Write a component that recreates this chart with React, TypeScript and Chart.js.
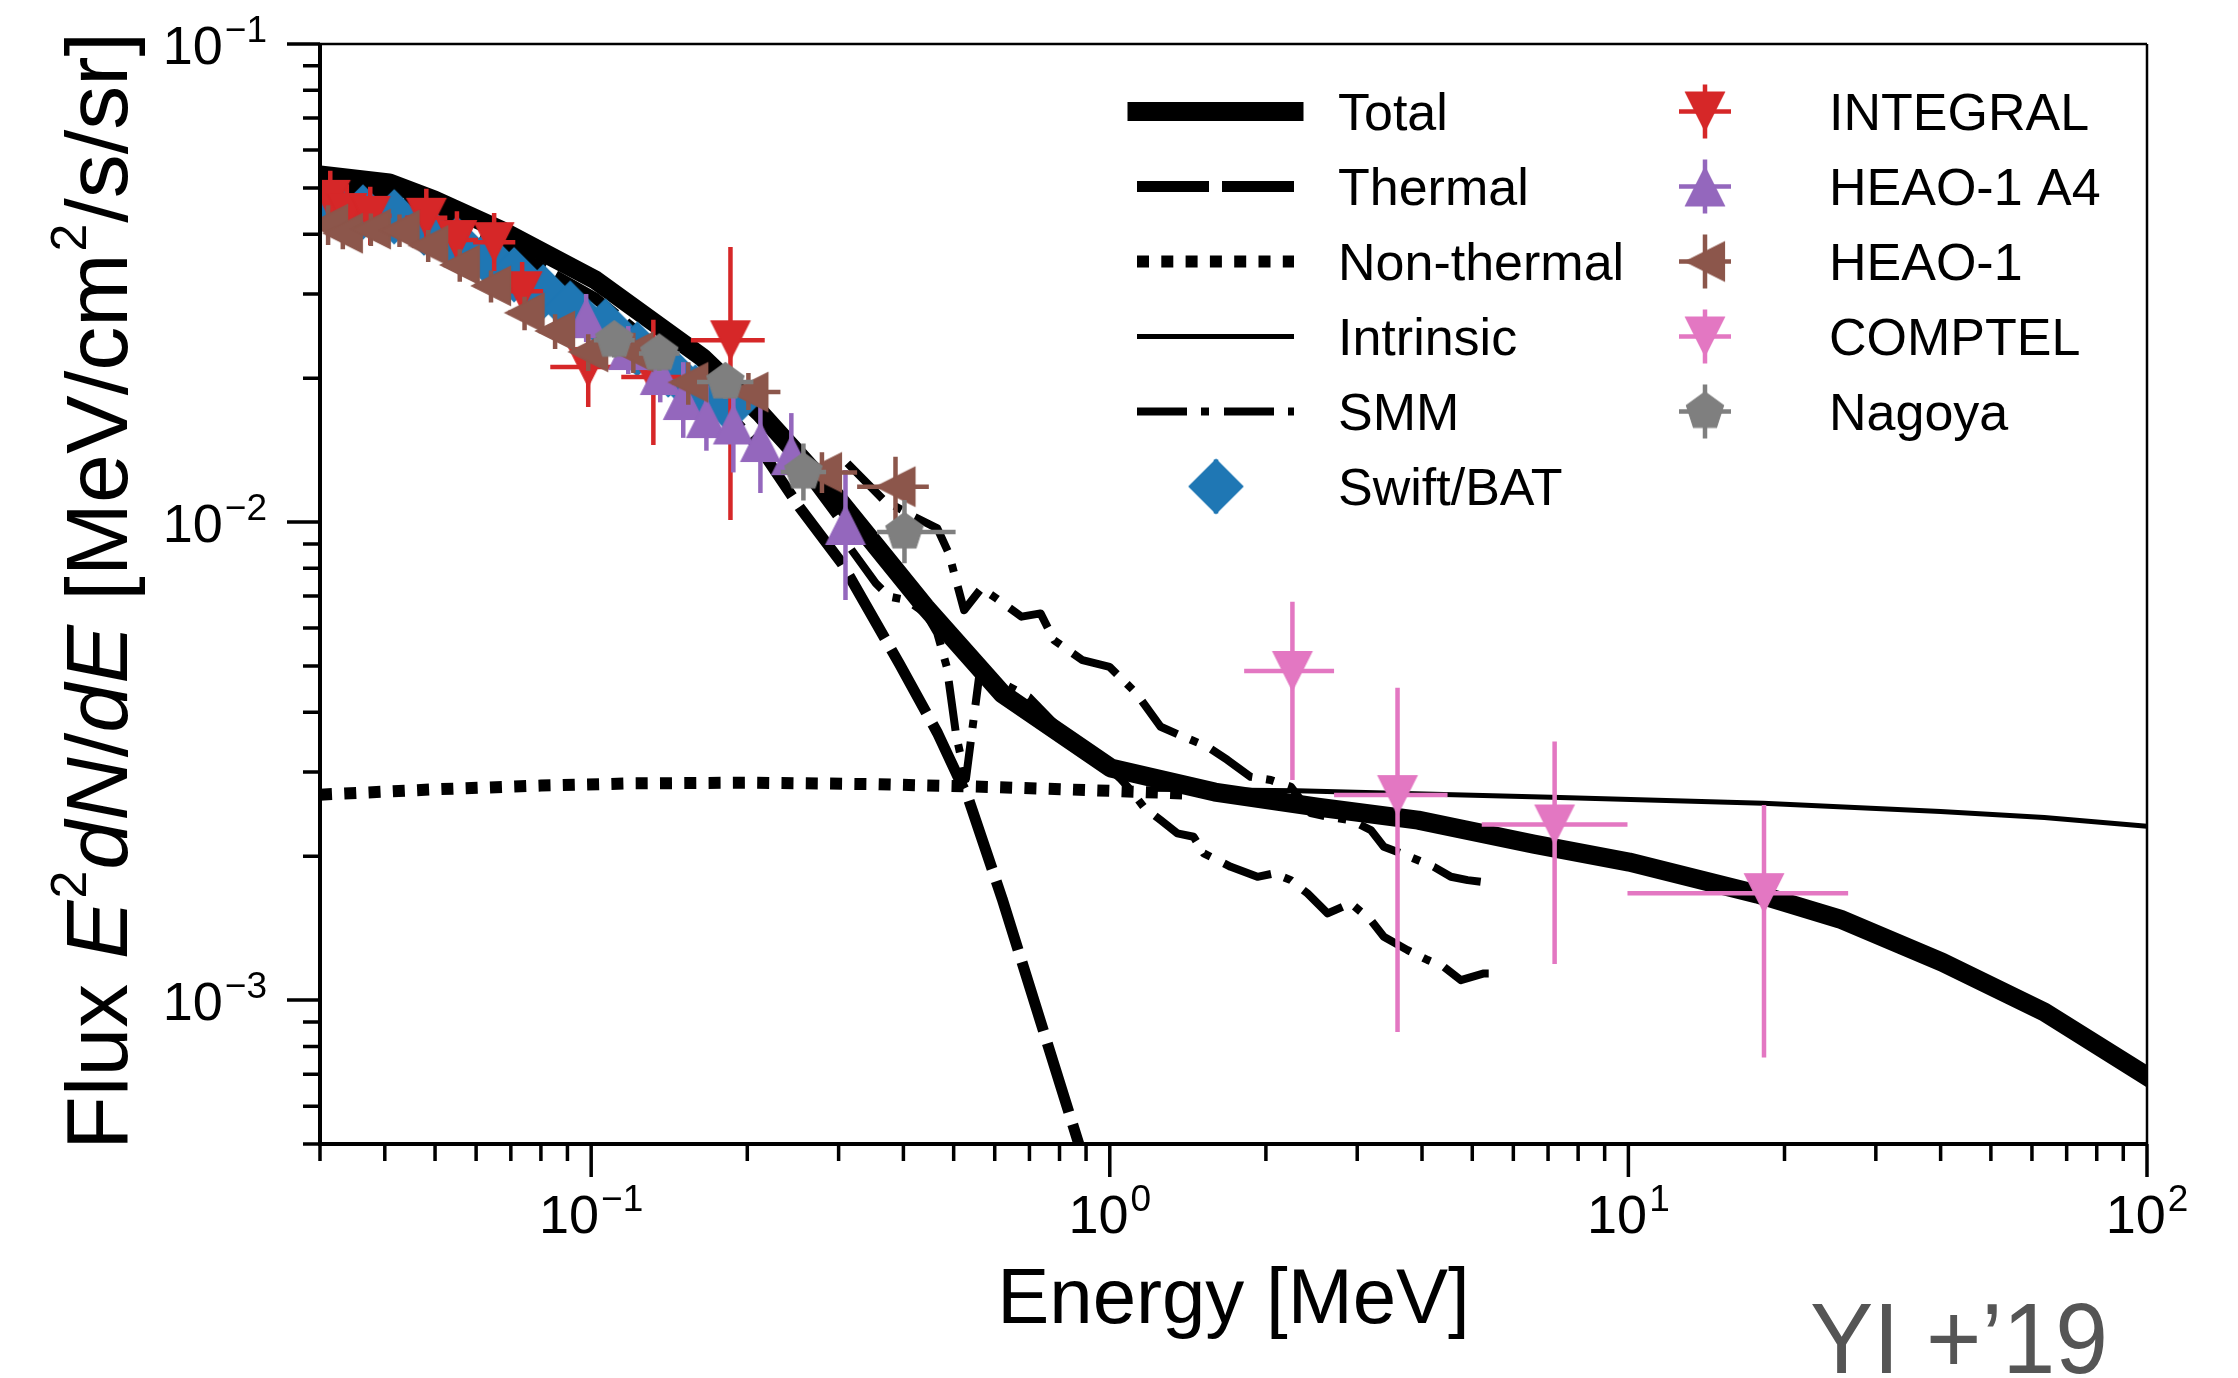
import React, { useEffect, useRef } from 'react';
import { Chart, registerables } from 'chart.js';

Chart.register(...registerables);

const FONT = '"Liberation Sans", Arial, Helvetica, sans-serif';

// ---------------- model curves (Energy [MeV], Flux) ----------------
const totalE = [0.03, 0.0408, 0.0498, 0.067, 0.1018, 0.1638, 0.212, 0.297, 0.441, 0.621, 1.004, 1.594, 2.518, 3.93, 6.57, 10.03, 17.7, 25.6, 40.3, 63.4, 100];
const totalF = [0.0532, 0.0512, 0.0472, 0.0408, 0.0321, 0.0221, 0.0169, 0.01128, 0.00664, 0.00437, 0.00306, 0.002724, 0.002534, 0.002379, 0.00212, 0.001944, 0.001667, 0.001477, 0.0012, 0.000944, 0.000693];

const thermalE = [0.03, 0.0408, 0.0498, 0.067, 0.1018, 0.1638, 0.212, 0.252, 0.305, 0.393, 0.4654, 0.535, 0.62, 0.869, 1.0];
const thermalF = [0.0505, 0.0485, 0.0445, 0.038, 0.0294, 0.0194, 0.0142, 0.01075, 0.00817, 0.00505, 0.00362, 0.00262, 0.00163, 0.000505, 0.000316];

const nonThermalE = [0.03, 0.05, 0.08, 0.12, 0.2, 0.35, 0.6, 1.0, 1.45];
const nonThermalF = [0.00269, 0.00276, 0.00281, 0.00284, 0.00285, 0.00283, 0.00279, 0.00274, 0.0027];

const intrinsicE = [1.2, 2.3, 7.1, 18.2, 40, 63.4, 100];
const intrinsicF = [0.00276, 0.00274, 0.002655, 0.00258, 0.00248, 0.00241, 0.00231];

const smmUpperE = [0.312, 0.3664, 0.4198, 0.465, 0.4894, 0.5237, 0.5654, 0.6048, 0.676, 0.7354, 0.781, 0.886, 0.999, 1.126, 1.2535, 1.388, 1.543, 1.686, 1.87, 2.044, 2.234, 2.441, 2.63, 2.916, 3.187, 3.376, 3.641, 4.216, 4.547, 4.898, 5.505];
const smmUpperF = [0.01327, 0.01112, 0.01026, 0.0097, 0.0086, 0.00654, 0.00727, 0.00692, 0.00634, 0.00644, 0.00566, 0.00514, 0.00498, 0.00438, 0.00373, 0.003555, 0.00339, 0.00318, 0.00293, 0.002886, 0.002794, 0.00246, 0.002418, 0.002379, 0.002268, 0.002093, 0.00203, 0.0019, 0.001811, 0.001782, 0.001754];

const smmLowerE = [0.26, 0.297, 0.3145, 0.354, 0.3759, 0.4054, 0.4417, 0.465, 0.4849, 0.506, 0.528, 0.546, 0.561, 0.621, 0.699, 0.8, 0.95, 1.05, 1.097, 1.162, 1.2535, 1.35, 1.451, 1.518, 1.711, 1.926, 2.072, 2.234, 2.406, 2.63, 2.916, 3.187, 3.376, 3.751, 4.101, 4.408, 4.753, 5.265, 5.505];
const smmLowerF = [0.0125, 0.0103, 0.00888, 0.00744, 0.00698, 0.00687, 0.00644, 0.00585, 0.00498, 0.00356, 0.0029, 0.00385, 0.00483, 0.0046, 0.0043, 0.0037, 0.0032, 0.0029, 0.00275, 0.002537, 0.002379, 0.002232, 0.002196, 0.002027, 0.0019, 0.001811, 0.001841, 0.001782, 0.001672, 0.001518, 0.001594, 0.00147, 0.001357, 0.001272, 0.001213, 0.001174, 0.001101, 0.001137, 0.001137];

// ---------------- measurements ----------------
const swiftE = [0.0325, 0.0363, 0.0417, 0.0476, 0.0551, 0.063, 0.071, 0.0808, 0.0911, 0.1065, 0.1227, 0.1408, 0.1588, 0.1848];
const swiftF = [0.0447, 0.0445, 0.0435, 0.0412, 0.0382, 0.0357, 0.0329, 0.0303, 0.028, 0.0257, 0.023, 0.0208, 0.0187, 0.0175];
const swiftFLo = [0.0428, 0.0426, 0.0416, 0.0393, 0.0364, 0.034, 0.0313, 0.0287, 0.0265, 0.0243, 0.0217, 0.0195, 0.0175, 0.0162];
const swiftFHi = [0.0466, 0.0464, 0.0454, 0.0431, 0.04, 0.0374, 0.0345, 0.0319, 0.0295, 0.0271, 0.0243, 0.0221, 0.0199, 0.0188];

const integralE = [0.0314, 0.0338, 0.0375, 0.0481, 0.0551, 0.065, 0.0736, 0.0987, 0.1318, 0.1856];
const integralELo = [0.0286, 0.0308, 0.0341, 0.0438, 0.0502, 0.0592, 0.067, 0.0834, 0.1143, 0.1557];
const integralEHi = [0.0345, 0.0371, 0.0412, 0.0528, 0.0605, 0.0714, 0.0808, 0.11, 0.152, 0.2161];
const integralF = [0.0472, 0.0443, 0.0437, 0.0433, 0.0389, 0.0385, 0.0304, 0.0211, 0.0201, 0.024];
const integralFLo = [0.041, 0.0385, 0.038, 0.0376, 0.0338, 0.0335, 0.0264, 0.0174, 0.0145, 0.0101];
const integralFHi = [0.0543, 0.0509, 0.0503, 0.0498, 0.0447, 0.0443, 0.035, 0.0249, 0.0265, 0.0376];

const heaoA4E = [0.0978, 0.1179, 0.1359, 0.1505, 0.1668, 0.188, 0.212, 0.2432, 0.3093];
const heaoA4F = [0.0267, 0.0229, 0.0203, 0.018, 0.0165, 0.016, 0.0147, 0.0138, 0.00986];
const heaoA4FLo = [0.0238, 0.0204, 0.0178, 0.015, 0.0141, 0.0127, 0.0115, 0.01266, 0.00687];
const heaoA4FHi = [0.03, 0.0257, 0.0232, 0.0216, 0.0193, 0.0202, 0.0188, 0.0169, 0.01285];

const heao1E = [0.0311, 0.0332, 0.0376, 0.0427, 0.0485, 0.0558, 0.0641, 0.0744, 0.0852, 0.0987, 0.1206, 0.1539, 0.201, 0.2786, 0.3862];
const heao1ELo = [0.0289, 0.0309, 0.035, 0.0397, 0.0451, 0.0519, 0.0596, 0.0692, 0.0792, 0.0918, 0.1122, 0.1431, 0.1911, 0.2383, 0.3257];
const heao1EHi = [0.0334, 0.0357, 0.0404, 0.0459, 0.0521, 0.06, 0.0689, 0.08, 0.0916, 0.1061, 0.1296, 0.1654, 0.2317, 0.3257, 0.4478];
const heao1F = [0.042, 0.0402, 0.041, 0.0408, 0.0379, 0.0345, 0.0312, 0.0274, 0.0251, 0.0227, 0.0227, 0.0196, 0.0187, 0.0127, 0.01186];
const heao1FLo = [0.038, 0.0372, 0.0378, 0.0376, 0.035, 0.0318, 0.0288, 0.0252, 0.023, 0.0207, 0.0205, 0.0176, 0.01716, 0.0115, 0.0101];
const heao1FHi = [0.046, 0.0432, 0.0442, 0.044, 0.0408, 0.0372, 0.0336, 0.0296, 0.0272, 0.0247, 0.0249, 0.0216, 0.0205, 0.014, 0.0137];

const comptelE = [2.25, 3.588, 7.207, 18.26];
const comptelELo = [1.816, 2.707, 5.215, 9.96];
const comptelEHi = [2.707, 4.48, 9.96, 26.53];
const comptelF = [0.00488, 0.002684, 0.00233, 0.001674];
const comptelFLo = [0.002886, 0.000858, 0.00119, 0.000758];
const comptelFHi = [0.00681, 0.0045, 0.003475, 0.002559];

const nagoyaE = [0.1108, 0.1353, 0.1815, 0.2566, 0.4019];
const nagoyaELo = [0.1012, 0.1236, 0.16, 0.232, 0.3559];
const nagoyaEHi = [0.1213, 0.1481, 0.2055, 0.2838, 0.5043];
const nagoyaF = [0.024, 0.02252, 0.01963, 0.01272, 0.00953];
const nagoyaFLo = [0.0221, 0.0207, 0.0181, 0.0111, 0.0082];
const nagoyaFHi = [0.0261, 0.0245, 0.0213, 0.0146, 0.01112];

// ---------------- axes ----------------
const xMin = 0.03, xMax = 100, yMin = 0.0005, yMax = 0.1;
const xMajorTicks = [0.1, 1, 10, 100];
const xMajorExp = ['\u22121', '0', '1', '2'];
const xMinorTicks = [0.03, 0.04, 0.05, 0.06, 0.07, 0.08, 0.09, 0.2, 0.3, 0.4, 0.5, 0.6, 0.7, 0.8, 0.9, 2, 3, 4, 5, 6, 7, 8, 9, 20, 30, 40, 50, 60, 70, 80, 90];
const yMajorTicks = [0.1, 0.01, 0.001];
const yMajorExp = ['\u22121', '\u22122', '\u22123'];
const yMinorTicks = [0.0005, 0.0006, 0.0007, 0.0008, 0.0009, 0.002, 0.003, 0.004, 0.005, 0.006, 0.007, 0.008, 0.009, 0.02, 0.03, 0.04, 0.05, 0.06, 0.07, 0.08, 0.09];

const C_BLUE = '#1f77b4', C_RED = '#d62728', C_PURPLE = '#9467bd', C_BROWN = '#8c564b', C_PINK = '#e377c2', C_GRAY = '#7f7f7f';

function line(xs: number[], ys: number[]) {
  return xs.map((x, i) => ({ x, y: ys[i] }));
}
function errPts(xs: number[], ys: number[], xLo: number[] | null, xHi: number[] | null, yLo: number[] | null, yHi: number[] | null) {
  return xs.map((x, i) => ({
    x,
    y: ys[i],
    xLo: xLo ? xLo[i] : undefined,
    xHi: xHi ? xHi[i] : undefined,
    yLo: yLo ? yLo[i] : undefined,
    yHi: yHi ? yHi[i] : undefined,
  }));
}

function makeMarker(shape: string, color: string): HTMLCanvasElement {
  const S = 64;
  const c = document.createElement('canvas');
  c.width = S;
  c.height = S;
  const g = c.getContext('2d')!;
  g.translate(S / 2, S / 2);
  g.fillStyle = color;
  g.strokeStyle = color;
  g.lineWidth = 1.2;
  g.lineJoin = 'miter';
  const h = 19.5;
  g.beginPath();
  if (shape === 'v') {
    g.moveTo(-h, -h); g.lineTo(h, -h); g.lineTo(0, h);
  } else if (shape === '^') {
    g.moveTo(-h, h); g.lineTo(h, h); g.lineTo(0, -h);
  } else if (shape === '<') {
    g.moveTo(-h, 0); g.lineTo(h, -h); g.lineTo(h, h);
  } else if (shape === 'D') {
    const d = 27;
    g.moveTo(0, -d); g.lineTo(d, 0); g.lineTo(0, d); g.lineTo(-d, 0);
  } else if (shape === 'p') {
    for (let k = 0; k < 5; k++) {
      const a = -Math.PI / 2 + (k * 2 * Math.PI) / 5;
      const px = h * Math.cos(a), py = h * Math.sin(a);
      if (k === 0) g.moveTo(px, py); else g.lineTo(px, py);
    }
  }
  g.closePath();
  g.fill();
  g.stroke();
  return c;
}

const errorBarPlugin = {
  id: 'errorBars',
  beforeDatasetDraw(chart: any, args: any) {
    const ds = chart.data.datasets[args.index];
    if (!ds.errColor) return;
    const { ctx, chartArea, scales } = chart;
    ctx.save();
    ctx.beginPath();
    ctx.rect(chartArea.left, chartArea.top, chartArea.right - chartArea.left, chartArea.bottom - chartArea.top);
    ctx.clip();
    ctx.strokeStyle = ds.errColor;
    ctx.lineWidth = 4.5;
    ctx.lineCap = 'butt';
    ctx.setLineDash([]);
    for (const p of ds.data) {
      const x = scales.x.getPixelForValue(p.x);
      const y = scales.y.getPixelForValue(p.y);
      ctx.beginPath();
      if (p.yLo !== undefined) {
        ctx.moveTo(x, scales.y.getPixelForValue(p.yLo));
        ctx.lineTo(x, scales.y.getPixelForValue(p.yHi));
      }
      if (p.xLo !== undefined) {
        ctx.moveTo(scales.x.getPixelForValue(p.xLo), y);
        ctx.lineTo(scales.x.getPixelForValue(p.xHi), y);
      }
      ctx.stroke();
    }
    ctx.restore();
  },
};

function drawPow(ctx: CanvasRenderingContext2D, exp: string, x: number, baseline: number, align: 'center' | 'right') {
  ctx.font = `54px ${FONT}`;
  const w1 = ctx.measureText('10').width;
  ctx.font = `37px ${FONT}`;
  const w2 = ctx.measureText(exp).width;
  const gap = 2;
  const total = w1 + gap + w2;
  const start = align === 'center' ? x - total / 2 : x - total;
  ctx.textAlign = 'left';
  ctx.textBaseline = 'alphabetic';
  ctx.font = `54px ${FONT}`;
  ctx.fillText('10', start, baseline);
  ctx.font = `37px ${FONT}`;
  ctx.fillText(exp, start + w1 + gap, baseline - 22);
}

const framePlugin = {
  id: 'frame',
  afterDraw(chart: any) {
    const { ctx, chartArea, scales } = chart;
    const { left, right, top, bottom } = chartArea;
    ctx.save();
    ctx.fillStyle = '#000';
    ctx.strokeStyle = '#000';
    ctx.setLineDash([]);
    ctx.lineCap = 'butt';

    // ticks
    ctx.lineWidth = 3.5;
    ctx.beginPath();
    for (const v of xMinorTicks) {
      const x = scales.x.getPixelForValue(v);
      ctx.moveTo(x, bottom); ctx.lineTo(x, bottom + 17);
    }
    for (const v of xMajorTicks) {
      const x = scales.x.getPixelForValue(v);
      ctx.moveTo(x, bottom); ctx.lineTo(x, bottom + 33);
    }
    for (const v of yMinorTicks) {
      const y = scales.y.getPixelForValue(v);
      ctx.moveTo(left, y); ctx.lineTo(left - 17, y);
    }
    for (const v of yMajorTicks) {
      const y = scales.y.getPixelForValue(v);
      ctx.moveTo(left, y); ctx.lineTo(left - 33, y);
    }
    ctx.stroke();

    // spines
    ctx.lineWidth = 2.5;
    ctx.beginPath();
    ctx.moveTo(left, top); ctx.lineTo(right, top);
    ctx.moveTo(right, top); ctx.lineTo(right, bottom);
    ctx.stroke();
    ctx.lineWidth = 4;
    ctx.beginPath();
    ctx.moveTo(left, top - 1); ctx.lineTo(left, bottom + 2);
    ctx.moveTo(left - 2, bottom); ctx.lineTo(right + 1, bottom);
    ctx.stroke();

    // tick labels
    xMajorTicks.forEach((v, i) => drawPow(ctx, xMajorExp[i], scales.x.getPixelForValue(v), 1233, 'center'));
    yMajorTicks.forEach((v, i) => drawPow(ctx, yMajorExp[i], left - 53, scales.y.getPixelForValue(v) + 20, 'right'));

    // x title
    ctx.font = `78px ${FONT}`;
    ctx.textAlign = 'center';
    ctx.textBaseline = 'alphabetic';
    ctx.fillText('Energy [MeV]', (left + right) / 2, 1323);

    // y title with italic / superscript runs
    const runs: [string, string][] = [
      ['Flux ', 'n'], ['E', 'i'], ['2', 's'], ['dN', 'i'], ['/', 'n'], ['dE', 'i'], [' [MeV/cm', 'n'], ['2', 's'], ['/s/sr]', 'n'],
    ];
    const fontFor = (k: string) => (k === 'i' ? `italic 88px ${FONT}` : k === 's' ? `50px ${FONT}` : `88px ${FONT}`);
    let tw = 0;
    const widths = runs.map(([t, k]) => {
      ctx.font = fontFor(k);
      const w = ctx.measureText(t).width + (k === 's' ? 3 : 0);
      tw += w;
      return w;
    });
    ctx.save();
    ctx.translate(127, 591);
    ctx.rotate(-Math.PI / 2);
    ctx.textAlign = 'left';
    let cx = -tw / 2;
    runs.forEach(([t, k], i) => {
      ctx.font = fontFor(k);
      ctx.fillText(t, cx + (k === 's' ? 2 : 0), k === 's' ? -41 : 0);
      cx += widths[i];
    });
    ctx.restore();

    // legend
    const rows = [111.5, 186.5, 261.5, 336.5, 411.5, 486.5];
    const ds = chart.data.datasets;
    const byLabel = (l: string) => ds.find((d: any) => d.label === l);
    const col1 = ['Total', 'Thermal', 'Non-thermal', 'Intrinsic', 'SMM', 'Swift/BAT'];
    const col2 = ['INTEGRAL', 'HEAO-1 A4', 'HEAO-1', 'COMPTEL', 'Nagoya'];
    const drawText = (t: string, x: number, y: number) => {
      ctx.font = `52px ${FONT}`;
      ctx.fillStyle = '#000';
      ctx.textAlign = 'left';
      ctx.textBaseline = 'alphabetic';
      ctx.fillText(t, x, y + 18.6);
    };
    const drawMarkerEntry = (d: any, x: number, y: number, hbar: boolean) => {
      ctx.save();
      ctx.strokeStyle = d.errColor;
      ctx.lineWidth = 4.5;
      ctx.setLineDash([]);
      ctx.beginPath();
      ctx.moveTo(x, y - 27); ctx.lineTo(x, y + 27);
      if (hbar) { ctx.moveTo(x - 26, y); ctx.lineTo(x + 26, y); }
      ctx.stroke();
      const img = d.pointStyle as HTMLCanvasElement;
      ctx.drawImage(img, x - img.width / 2, y - img.height / 2);
      ctx.restore();
    };
    col1.forEach((l, i) => {
      const d = byLabel(l);
      const y = rows[i];
      if (l === 'Swift/BAT') {
        drawMarkerEntry(d, 1216, y, false);
      } else {
        ctx.save();
        ctx.strokeStyle = '#000';
        ctx.lineWidth = d.borderWidth;
        ctx.setLineDash(d.borderDash || []);
        ctx.lineCap = l === 'Total' ? 'square' : 'butt';
        ctx.beginPath();
        ctx.moveTo(1137, y); ctx.lineTo(1294, y);
        ctx.stroke();
        ctx.restore();
      }
      drawText(l, 1338, y);
    });
    col2.forEach((l, i) => {
      const d = byLabel(l);
      drawMarkerEntry(d, 1705, rows[i], true);
      drawText(l, 1829, rows[i]);
    });

    // watermark
    ctx.save();
    ctx.font = `100px ${FONT}`;
    ctx.fillStyle = '#555555';
    ctx.textAlign = 'left';
    const wm = 'YI +\u201919';
    const mw = ctx.measureText(wm).width;
    ctx.translate(1810, 1373);
    ctx.scale(298 / mw, 1);
    ctx.fillText(wm, 0, 0);
    ctx.restore();

    ctx.restore();
  },
};

export default function App() {
  const ref = useRef<HTMLCanvasElement>(null);
  useEffect(() => {
    document.body.style.margin = '0';
    document.body.style.overflow = 'hidden';
    const canvas = ref.current!;
    const lineBase = { showLine: true, pointRadius: 0, fill: false, tension: 0, borderColor: '#000', clip: 0, borderJoinStyle: 'round' as const };
    const markerBase = { showLine: false, pointRadius: 19, pointHoverRadius: 19, clip: 0 };

    const datasets: any[] = [
      { ...lineBase, label: 'Total', data: line(totalE, totalF), borderWidth: 19, borderCapStyle: 'square', order: 20 },
      { ...lineBase, label: 'Thermal', data: line(thermalE, thermalF), borderWidth: 11, borderDash: [72, 13], borderCapStyle: 'butt', order: 19 },
      { ...lineBase, label: 'Non-thermal', data: line(nonThermalE, nonThermalF), borderWidth: 12, borderDash: [12, 12.3], borderCapStyle: 'butt', order: 18 },
      { ...lineBase, label: 'Intrinsic', data: line(intrinsicE, intrinsicF), borderWidth: 5, order: 17 },
      { ...lineBase, label: 'SMM', data: line(smmUpperE, smmUpperF), borderWidth: 8, borderDash: [50, 14, 8, 15], borderCapStyle: 'butt', order: 16 },
      { ...lineBase, label: 'SMM (2)', data: line(smmLowerE, smmLowerF), borderWidth: 8, borderDash: [50, 14, 8, 15], borderCapStyle: 'butt', order: 15 },
      { ...markerBase, label: 'Swift/BAT', data: errPts(swiftE, swiftF, null, null, swiftFLo, swiftFHi), pointStyle: makeMarker('D', C_BLUE), errColor: C_BLUE, order: 6 },
      { ...markerBase, label: 'INTEGRAL', data: errPts(integralE, integralF, integralELo, integralEHi, integralFLo, integralFHi), pointStyle: makeMarker('v', C_RED), errColor: C_RED, order: 5 },
      { ...markerBase, label: 'HEAO-1 A4', data: errPts(heaoA4E, heaoA4F, null, null, heaoA4FLo, heaoA4FHi), pointStyle: makeMarker('^', C_PURPLE), errColor: C_PURPLE, order: 4 },
      { ...markerBase, label: 'HEAO-1', data: errPts(heao1E, heao1F, heao1ELo, heao1EHi, heao1FLo, heao1FHi), pointStyle: makeMarker('<', C_BROWN), errColor: C_BROWN, order: 3 },
      { ...markerBase, label: 'COMPTEL', data: errPts(comptelE, comptelF, comptelELo, comptelEHi, comptelFLo, comptelFHi), pointStyle: makeMarker('v', C_PINK), errColor: C_PINK, order: 2 },
      { ...markerBase, label: 'Nagoya', data: errPts(nagoyaE, nagoyaF, nagoyaELo, nagoyaEHi, nagoyaFLo, nagoyaFHi), pointStyle: makeMarker('p', C_GRAY), errColor: C_GRAY, order: 1 },
    ];

    const chart = new Chart(canvas, {
      type: 'scatter',
      data: { datasets },
      options: {
        responsive: false,
        animation: false,
        devicePixelRatio: 1,
        events: [],
        layout: { padding: { left: 320, top: 44, right: 91, bottom: 234 } },
        plugins: { legend: { display: false }, tooltip: { enabled: false } },
        scales: {
          x: { type: 'logarithmic', min: xMin, max: xMax, bounds: 'data', display: false },
          y: { type: 'logarithmic', min: yMin, max: yMax, bounds: 'data', display: false },
        },
      } as any,
      plugins: [errorBarPlugin as any, framePlugin as any],
    });
    return () => chart.destroy();
  }, []);
  return (
    <div style={{ width: 2238, height: 1378, background: '#fff' }}>
      <canvas ref={ref} width={2238} height={1378} style={{ display: 'block', width: 2238, height: 1378 }} />
    </div>
  );
}
